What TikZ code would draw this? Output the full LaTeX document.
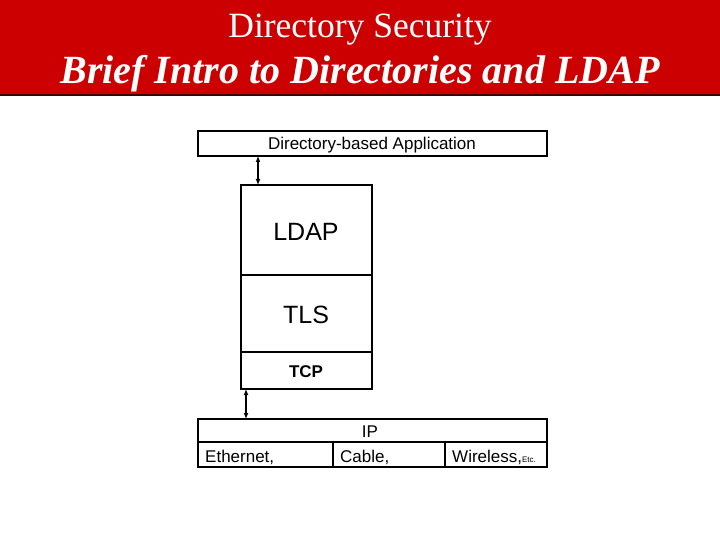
\documentclass[tikz,border=0pt]{standalone}
\usepackage{fontspec}
\usetikzlibrary{arrows.meta}
\setmainfont{Liberation Serif}
\newfontfamily\arial{Liberation Sans}
\definecolor{banner}{RGB}{204,0,0}
\begin{document}
\begin{tikzpicture}[x=1pt,y=-1pt,
  box/.style={draw=black,line width=2pt},
  lbl/.style={font=\arial\fontsize{17}{19}\selectfont,inner sep=0pt},
  biglbl/.style={font=\arial\fontsize{25}{28}\selectfont,inner sep=0pt},
  arr/.style={line width=1.5pt,<->,>={Latex[length=6pt,width=5pt]}}]
\useasboundingbox (0,0) rectangle (720,540);
\fill[banner] (0,0) rectangle (720,95);
\draw[line width=2pt,black!70!banner] (0,95) -- (720,95);
\node[text=white,font=\fontsize{35.5}{40}\selectfont,inner sep=0pt] (t1) at (360,30) {Directory Security};
\node[text=white,font=\bfseries\itshape\fontsize{40}{45}\selectfont,inner sep=0pt] (t2) at (360,74) {Brief Intro to Directories and LDAP};
\draw[box] (198,131) rectangle (547,156);
\node[lbl] (app) at (372,145) {Directory-based Application};
\draw[box] (241,185) rectangle (372,275);
\node[biglbl] (ldap) at (306,232) {LDAP};
\draw[box] (241,275) rectangle (372,352);
\node[biglbl] (tls) at (306,315) {TLS};
\draw[box] (241,352) rectangle (372,389);
\node[font=\arial\bfseries\fontsize{17}{19}\selectfont,inner sep=0pt] (tcp) at (306,372) {TCP};
\draw[box] (198,419) rectangle (547,467);
\draw[box] (198,442) -- (547,442) (333,442) -- (333,467) (445,442) -- (445,467);
\node[lbl] (ip) at (370,432) {IP};
\node[lbl,anchor=west] (eth) at (205,457) {Ethernet,};
\node[lbl,anchor=west] (cab) at (340,457) {Cable,};
\node[lbl,anchor=west] (wl) at (452,457) {Wireless,{\fontsize{8}{9}\selectfont Etc.}};
\coordinate (a1) at (258,156); \coordinate (a2) at (258,185);
\coordinate (b1) at (246,389); \coordinate (b2) at (246,419);
\draw[arr] (a1) -- (a2);
\draw[arr] (b1) -- (b2);
\end{tikzpicture}
\end{document}
